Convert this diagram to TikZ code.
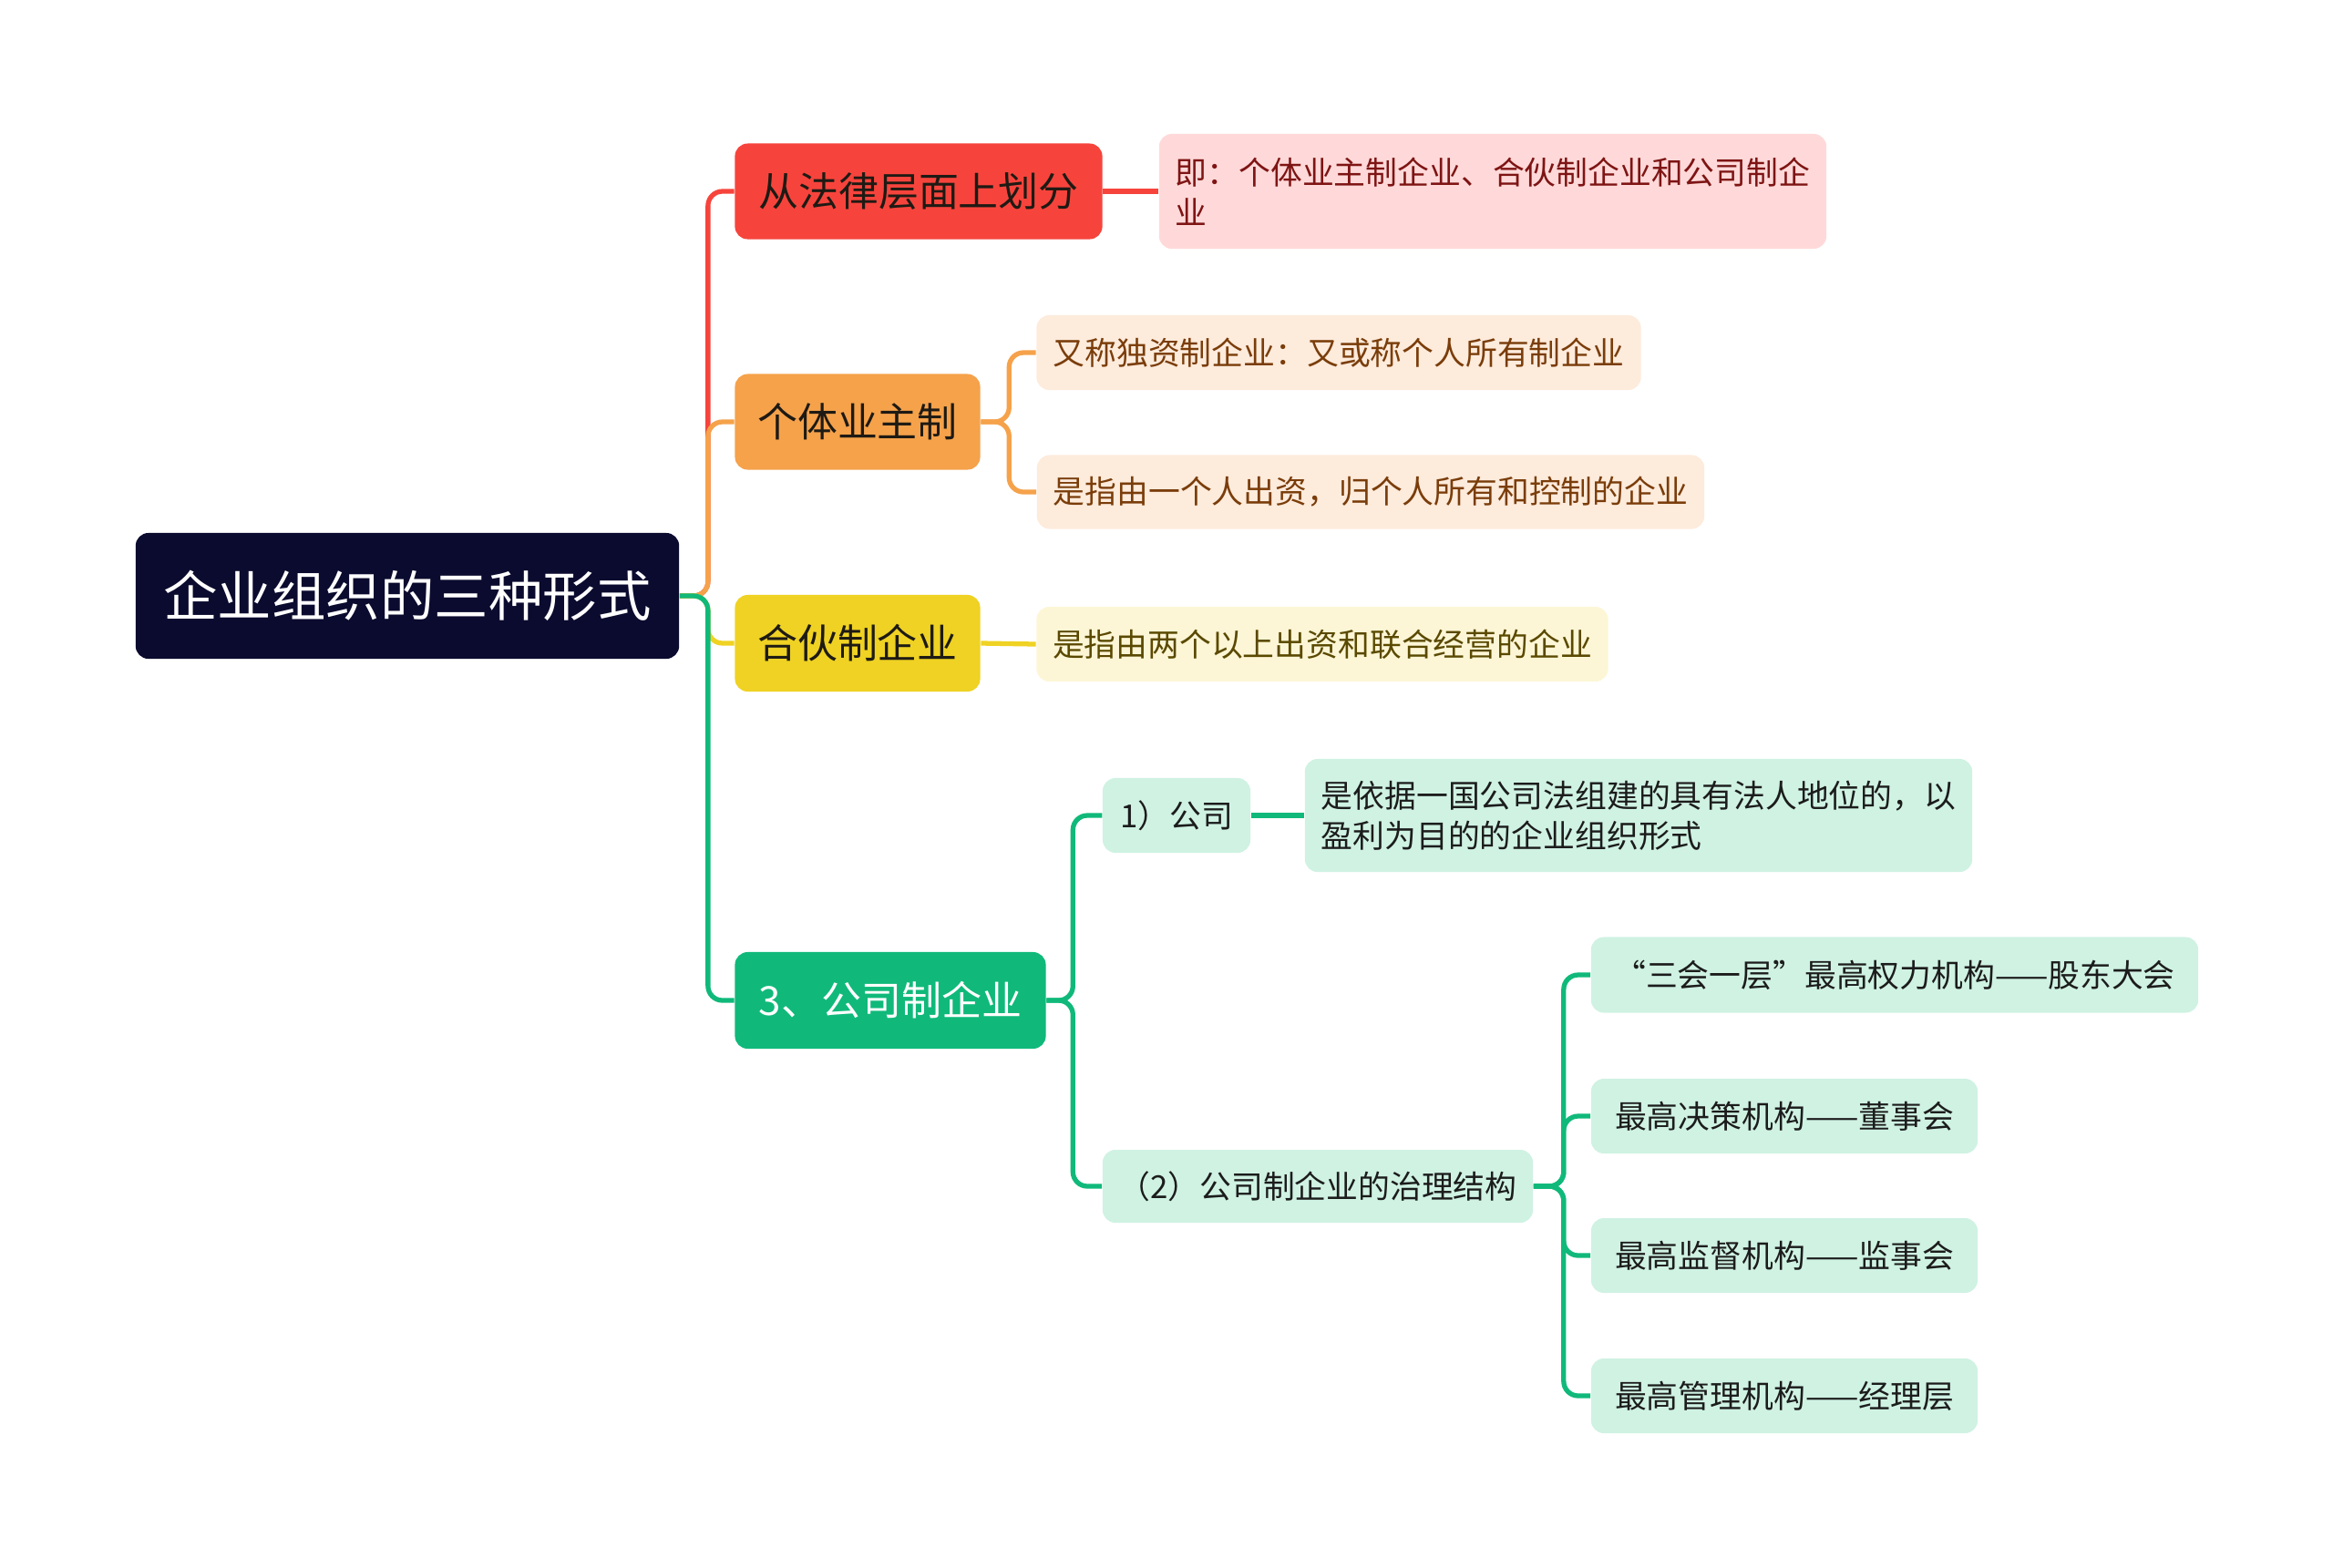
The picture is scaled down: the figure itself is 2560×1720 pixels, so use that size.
\documentclass[tikz,border=0pt]{standalone}
\usepackage{fontspec}
\setmainfont{Noto Sans CJK SC}
\usepackage{xcolor}
\definecolor{rootbg}{HTML}{0B0B2F}
\definecolor{lawred}{HTML}{F6443C}
\definecolor{soleorange}{HTML}{F5A24B}
\definecolor{partyellow}{HTML}{EFD223}
\definecolor{corpgreen}{HTML}{10B97A}
\definecolor{lawleaf}{HTML}{FFD9D9}
\definecolor{lawtext}{HTML}{7E1414}
\definecolor{soleleaf}{HTML}{FDEBDC}
\definecolor{soletext}{HTML}{7A3D0A}
\definecolor{partleaf}{HTML}{FDF6D6}
\definecolor{parttext}{HTML}{5A4900}
\definecolor{corpleaf}{HTML}{CFF2E3}
\definecolor{corptext}{HTML}{1C1C1C}
\definecolor{topictext}{HTML}{1E1A14}
\usetikzlibrary{arrows.meta}

\begin{document}
\begin{tikzpicture}[x=0.01cm, y=-0.01cm,
  topic/.style={fill=#1, rounded corners=4pt, inner sep=0pt,
    font=\fontsize{12.5}{15}\selectfont, text=topictext},
  leaf/.style 2 args={fill=#1, text=#2, rounded corners=4pt, inner sep=0pt,
    align=left, font=\fontsize{9.9}{12.5}\selectfont},
  link/.style={draw=#1, line width=1.5pt, rounded corners=4.5pt}
]
  \useasboundingbox (0,0) rectangle (2560,1720);

  % central topic
  \node[fill=rootbg, rounded corners=4pt, text=white, font=\fontsize{16.9}{20}\selectfont,
    minimum width=5.96cm, minimum height=1.38cm] (root) at (447,654) {企业组织的三种形式};

  % main branches
  \node[topic=lawred, minimum width=4.03cm, minimum height=1.05cm] (law) at (1008,210) {从法律层面上划分};
  \node[topic=soleorange, minimum width=2.69cm, minimum height=1.05cm] (sole) at (941,463) {个体业主制};
  \node[topic=partyellow, minimum width=2.69cm, minimum height=1.06cm] (part) at (941,706) {合伙制企业};
  \node[topic=corpgreen, text=white, minimum width=3.41cm, minimum height=1.06cm] (corp) at (977,1098) {3、公司制企业};

  % leaves
  \node[leaf={lawleaf}{lawtext}, minimum width=7.32cm, minimum height=1.26cm] (lawnote) at (1638,210)
    {即：个体业主制企业、合伙制企业和公司制企\\业};
  \node[leaf={soleleaf}{soletext}, minimum width=6.63cm, minimum height=0.82cm] (solealias) at (1469,387)
    {又称独资制企业：又或称个人所有制企业};
  \node[leaf={soleleaf}{soletext}, minimum width=7.32cm, minimum height=0.81cm] (soledef) at (1504,540)
    {是指由一个人出资，归个人所有和控制的企业};
  \node[leaf={partleaf}{parttext}, minimum width=6.27cm, minimum height=0.82cm] (partdef) at (1451,707)
    {是指由两个以上出资和联合经营的企业};
  \node[leaf={corpleaf}{corptext}, minimum width=1.62cm, minimum height=0.82cm] (company) at (1291,895)
    {1）公司};
  \node[leaf={corpleaf}{corptext}, minimum width=7.32cm, minimum height=1.24cm] (companydef) at (1798,895)
    {是依据一国公司法组建的具有法人地位的，以\\盈利为目的的企业组织形式};
  \node[leaf={corpleaf}{corptext}, minimum width=4.72cm, minimum height=0.80cm] (govern) at (1446,1302)
    {（2）公司制企业的治理结构};
  \node[leaf={corpleaf}{corptext}, minimum width=6.66cm, minimum height=0.83cm] (govpower) at (2079,1070)
    {“三会一层”最高权力机构——股东大会};
  \node[leaf={corpleaf}{corptext}, minimum width=4.24cm, minimum height=0.82cm] (govboard) at (1958,1225)
    {最高决策机构——董事会};
  \node[leaf={corpleaf}{corptext}, minimum width=4.24cm, minimum height=0.82cm] (govsuper) at (1958,1378)
    {最高监督机构——监事会};
  \node[leaf={corpleaf}{corptext}, minimum width=4.24cm, minimum height=0.82cm] (govmanage) at (1958,1532)
    {最高管理机构——经理层};

  % connectors
  \draw[link=lawred] (root.east) -- ++(31,0) |- (law.west);
  \draw[link=soleorange] (root.east) -- ++(31,0) |- (sole.west);
  \draw[link=partyellow] (root.east) -- ++(31,0) |- (part.west);
  \draw[link=corpgreen] (root.east) -- ++(31,0) |- (corp.west);

  \draw[link=lawred] (law.east) -- (lawnote.west);
  \draw[link=soleorange] (sole.east) -- ++(31,0) |- (solealias.west);
  \draw[link=soleorange] (sole.east) -- ++(31,0) |- (soledef.west);
  \draw[link=partyellow] (part.east) -- (partdef.west);
  \draw[link=corpgreen] (corp.east) -- ++(29,0) |- (company.west);
  \draw[link=corpgreen] (corp.east) -- ++(29,0) |- (govern.west);
  \draw[link=corpgreen] (company.east) -- (companydef.west);
  \foreach \g in {govpower, govboard, govsuper, govmanage}
    \draw[link=corpgreen] (govern.east) -- ++(33,0) |- (\g.west);
\end{tikzpicture}
\end{document}
